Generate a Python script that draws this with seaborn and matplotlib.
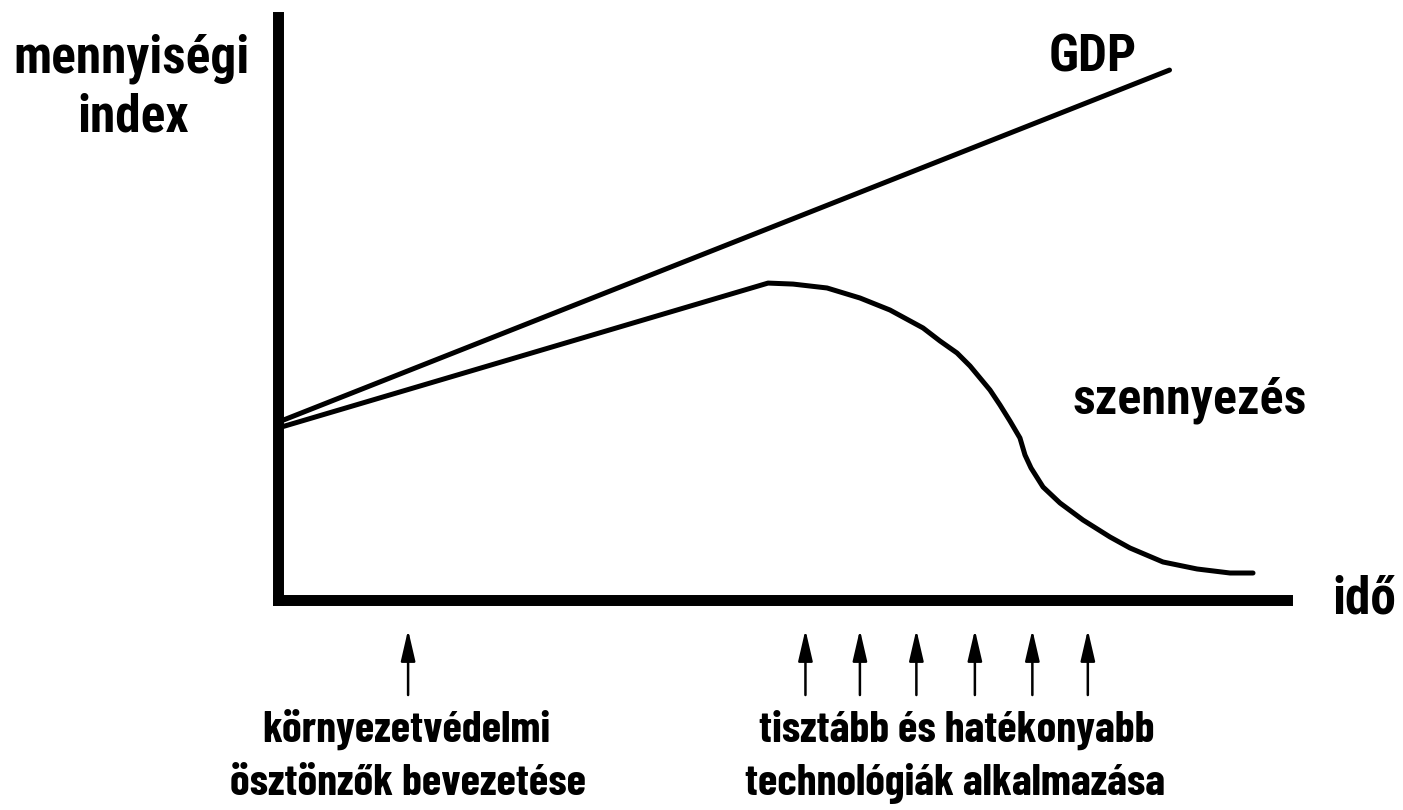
import matplotlib
matplotlib.use("Agg")
import matplotlib.pyplot as plt
import seaborn as sns
import pandas as pd

# ---- data (arbitrary index units) ----
gdp_time = [0.0, 88.4]
gdp_index = [30.5, 90.9]

poll_time = [0.0, 48.59, 51.07, 54.44, 57.71, 60.68, 63.96, 65.64, 67.33, 68.62,
             69.61, 70.60, 71.59, 72.58, 73.57, 74.07, 74.67, 75.86, 77.54, 79.82,
             82.50, 84.48, 87.75, 91.13, 94.40, 96.68]
poll_index = [29.5, 54.36, 54.19, 53.52, 51.80, 49.74, 46.66, 44.43, 42.37, 40.14,
              38.08, 36.02, 33.45, 30.70, 27.79, 24.87, 22.64, 19.38, 16.64, 13.72,
              10.81, 8.92, 6.52, 5.32, 4.63, 4.63]

arrow_time = [12.9, 52.3, 57.7, 63.3, 69.1, 74.8, 80.3]
arrow_top, arrow_bottom = -5.1, -16.3

label_y = ["mennyiségi", "index"]
label_x = "idő"
label_gdp = "GDP"
label_poll = "szennyezés"
note_left = ["környezetvédelmi", "ösztönzők bevezetése"]
note_right = ["tisztább és hatékonyabb", "technológiák alkalmazása"]

sns.set_theme(style="white")
plt.rcParams["font.family"] = ["Roboto Condensed", "Liberation Sans", "DejaVu Sans"]
plt.rcParams["font.weight"] = "bold"

W, H = 1403, 810
fig = plt.figure(figsize=(W / 100, H / 100), dpi=100)
fig.patch.set_facecolor("white")
ax = fig.add_axes([278 / W, 210 / H, 1008.5 / W, 583 / H])

gdf = pd.DataFrame({"t": gdp_time, "v": gdp_index})
pdf = pd.DataFrame({"t": poll_time, "v": poll_index})
sns.lineplot(data=gdf, x="t", y="v", ax=ax, color="black", lw=3.6,
             sort=False, estimator=None)
sns.lineplot(data=pdf, x="t", y="v", ax=ax, color="black", lw=3.6,
             sort=False, estimator=None)
for ln in ax.get_lines():
    ln.set_solid_capstyle("round")
    ln.set_solid_joinstyle("round")
    ln.set_clip_on(False)

ax.set_xlim(0, 100)
ax.set_ylim(0, 100)
ax.set_xticks([])
ax.set_yticks([])
ax.set_xlabel("")
ax.set_ylabel("")
ax.set_facecolor("white")
for s in ["top", "right"]:
    ax.spines[s].set_visible(False)
for s in ["left", "bottom"]:
    ax.spines[s].set_linewidth(7.9)
    ax.spines[s].set_color("black")
    ax.spines[s].set_capstyle("projecting")

for xt in arrow_time:
    ax.annotate("", xy=(xt, arrow_top), xytext=(xt, arrow_bottom),
                xycoords="data", textcoords="data", annotation_clip=False,
                arrowprops=dict(arrowstyle="-|>,head_length=0.95,head_width=0.22",
                                mutation_scale=20, lw=1.8, color="black",
                                shrinkA=0, shrinkB=0))

def ftext(px, py, s, size, family=None):
    kw = {}
    if family:
        kw["family"] = family
    fig.text(px / W, 1 - py / H, s, ha="center", va="baseline",
             fontsize=size, fontweight="bold", color="black", **kw)

bottom_family = ["Barlow Condensed", "Roboto Condensed", "DejaVu Sans"]
ftext(132, 72, label_y[0], 37)
ftext(133, 132, label_y[1], 37)
ftext(1093, 71, label_gdp, 37)
ftext(1190, 413, label_poll, 36)
ftext(1364, 613, label_x, 37)
ftext(406, 742, note_left[0], 32, bottom_family)
ftext(408, 795, note_left[1], 32, bottom_family)
ftext(957, 742, note_right[0], 32, bottom_family)
ftext(955, 795, note_right[1], 32, bottom_family)

fig.savefig("out.png", dpi=100, facecolor="white")
